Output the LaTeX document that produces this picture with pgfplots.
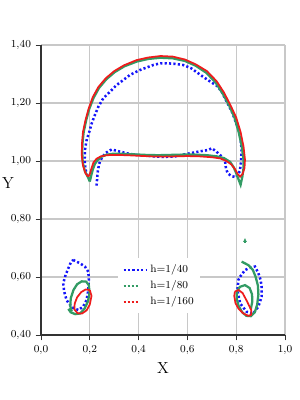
\documentclass[border=0pt]{standalone}
\usepackage{pgfplots}
\pgfplotsset{compat=1.18}
\usetikzlibrary{arrows.meta}
\definecolor{cblue}{RGB}{20,20,250}
\definecolor{cgreen}{RGB}{50,155,100}
\definecolor{cred}{RGB}{238,28,28}
\definecolor{cgrid}{RGB}{200,200,200}
\begin{document}
\begin{tikzpicture}
\begin{axis}[
  name=ax,
  scale only axis,
  width=183pt, height=217.5pt,
  xmin=0, xmax=1, ymin=0.4, ymax=1.4,
  xtick={0,0.2,0.4,0.6,0.8,1.0},
  ytick={0.4,0.6,0.8,1.0,1.2,1.4},
  xticklabels={{0,0},{0,2},{0,4},{0,6},{0,8},{1,0}},
  yticklabels={{0,40},{0,60},{0,80},{1,00},{1,20},{1,40}},
  tick label style={font=\footnotesize},
  tick align=outside,
  major tick length=4pt,
  tick style={black!80, line width=0.6pt},
  axis x line*=bottom, axis y line*=left,
  axis line style={black!80, line width=0.8pt, -},
  grid=major,
  major grid style={cgrid, line width=0.8pt},
  xlabel={X}, ylabel={Y},
  every axis x label/.style={at={(axis description cs:0.5,-0.114)}, anchor=center, font=\large},
  every axis y label/.style={at={(axis description cs:-0.135,0.524)}, anchor=center, font=\large},
  legend style={at={(axis description cs:0.316,0.266)}, anchor=north west, draw=none, fill=white, font=\footnotesize, row sep=0.5pt, inner sep=3pt},
  legend cell align=left,
]
% h=1/40 blue
\addplot[cblue, line width=1.9pt, dash pattern=on 1.6pt off 1.7pt, forget plot] coordinates {
(0.228,0.915)(0.230,0.94)(0.233,0.965)(0.238,0.99)(0.25,1.012)(0.265,1.028)(0.29,1.04)(0.32,1.033)(0.36,1.025)(0.40,1.02)(0.45,1.017)(0.50,1.014)(0.55,1.016)(0.60,1.025)(0.65,1.033)(0.685,1.038)(0.70,1.044)(0.715,1.035)(0.73,1.024)(0.745,1.012)(0.755,0.995)(0.758,0.975)(0.765,0.958)(0.78,0.948)(0.80,0.944)(0.815,0.965)(0.82,1.0)(0.822,1.04)(0.818,1.08)(0.81,1.11)(0.80,1.13)(0.785,1.165)(0.77,1.19)(0.755,1.215)(0.74,1.24)(0.72,1.26)(0.693,1.274)(0.665,1.29)(0.64,1.305)(0.615,1.32)(0.583,1.331)(0.55,1.335)(0.515,1.337)(0.49,1.337)(0.46,1.331)(0.435,1.323)(0.406,1.314)(0.365,1.297)(0.337,1.279)(0.31,1.262)(0.283,1.239)(0.255,1.216)(0.235,1.187)(0.221,1.159)(0.208,1.13)(0.198,1.101)(0.187,1.072)(0.180,1.038)(0.179,1.003)(0.182,0.972)(0.192,0.945)
};
\addplot[cblue, line width=1.9pt, dash pattern=on 1.6pt off 1.7pt, forget plot] coordinates {
(0.132,0.659)(0.16,0.647)(0.18,0.636)(0.194,0.618)(0.196,0.59)(0.194,0.555)(0.187,0.521)(0.173,0.498)(0.153,0.486)(0.126,0.496)(0.105,0.52)(0.095,0.55)(0.091,0.578)(0.1,0.605)(0.112,0.63)(0.122,0.65)(0.132,0.659)
};
\addplot[cblue, line width=1.9pt, dash pattern=on 1.6pt off 1.7pt] coordinates {
(0.816,0.601)(0.836,0.624)(0.857,0.632)(0.877,0.636)(0.891,0.613)(0.90,0.59)(0.904,0.567)(0.904,0.532)(0.891,0.498)(0.870,0.474)(0.843,0.48)(0.816,0.509)(0.805,0.555)(0.809,0.59)(0.816,0.601)
};
\addlegendentry{h=1/40}
% h=1/80 green
\addplot[cgreen, line width=1.7pt, forget plot] coordinates {
(0.200,0.929)(0.192,0.945)(0.180,0.965)(0.171,0.995)(0.169,1.03)(0.170,1.06)(0.175,1.10)(0.185,1.14)(0.198,1.18)(0.215,1.217)(0.238,1.252)(0.268,1.282)(0.303,1.307)(0.343,1.327)(0.393,1.343)(0.44,1.352)(0.49,1.356)(0.54,1.354)(0.59,1.345)(0.635,1.328)(0.678,1.304)(0.716,1.27)(0.745,1.232)(0.772,1.19)(0.793,1.15)(0.81,1.10)(0.823,1.05)(0.830,1.005)(0.830,0.975)(0.825,0.945)(0.818,0.918)(0.808,0.94)(0.800,0.958)(0.79,0.978)(0.775,0.997)(0.75,1.01)(0.72,1.016)(0.68,1.02)(0.63,1.022)(0.58,1.022)(0.53,1.021)(0.48,1.020)(0.43,1.021)(0.38,1.023)(0.33,1.025)(0.296,1.025)(0.27,1.022)(0.249,1.015)(0.232,1.003)(0.221,0.99)(0.212,0.97)(0.206,0.95)(0.200,0.929)
};
\addplot[cgreen, line width=1.7pt, forget plot] coordinates {
(0.112,0.49)(0.122,0.478)(0.14,0.472)(0.16,0.474)(0.178,0.49)(0.192,0.515)(0.199,0.545)(0.196,0.572)(0.185,0.584)(0.167,0.585)(0.148,0.575)(0.133,0.555)(0.122,0.527)(0.12,0.50)(0.126,0.482)
};
\addplot[cgreen, line width=1.2pt, -{Latex[length=3pt,width=3pt]}, forget plot] coordinates {
(0.836,0.718)(0.836,0.735)
};
\addplot[cgreen, line width=1.7pt, legend image code/.code={\draw[cgreen, line width=1.7pt, dash pattern=on 1.5pt off 1.5pt] (0cm,0cm) -- (0.42cm,0cm);}] coordinates {
(0.822,0.653)(0.85,0.641)(0.868,0.625)(0.88,0.60)(0.889,0.57)(0.891,0.54)(0.886,0.505)(0.876,0.478)(0.86,0.465)(0.842,0.466)(0.825,0.478)(0.81,0.50)(0.802,0.525)(0.803,0.55)(0.815,0.566)(0.836,0.572)(0.855,0.562)(0.865,0.54)(0.866,0.515)(0.86,0.49)
};
\addlegendentry{h=1/80}
% h=1/160 red
\addplot[cred, line width=1.3pt, forget plot] coordinates {
(0.194,0.946)(0.182,0.958)(0.172,0.985)(0.167,1.02)(0.168,1.06)(0.172,1.10)(0.182,1.14)(0.195,1.18)(0.212,1.22)(0.235,1.255)(0.265,1.285)(0.30,1.31)(0.34,1.33)(0.392,1.348)(0.44,1.357)(0.49,1.362)(0.54,1.36)(0.59,1.35)(0.635,1.333)(0.68,1.31)(0.72,1.275)(0.75,1.236)(0.778,1.19)(0.80,1.15)(0.818,1.10)(0.83,1.05)(0.836,1.005)(0.834,0.975)(0.826,0.955)(0.816,0.946)(0.806,0.955)(0.795,0.972)(0.78,0.988)(0.76,1.0)(0.734,1.009)(0.70,1.013)(0.65,1.016)(0.60,1.017)(0.55,1.016)(0.50,1.015)(0.45,1.016)(0.40,1.018)(0.35,1.02)(0.30,1.021)(0.27,1.02)(0.245,1.016)(0.228,1.008)(0.215,0.995)(0.207,0.975)(0.200,0.955)(0.194,0.946)
};
\addplot[cred, line width=1.3pt, forget plot] coordinates {
(0.20,0.555)(0.207,0.535)(0.20,0.505)(0.187,0.485)(0.168,0.474)(0.15,0.475)(0.137,0.488)(0.138,0.508)(0.148,0.53)(0.165,0.548)(0.183,0.557)(0.20,0.555)
};
\addplot[cred, line width=1.3pt, legend image code/.code={\draw[cred, line width=1.7pt, dash pattern=on 1.5pt off 1.5pt] (0cm,0cm) -- (0.42cm,0cm);}] coordinates {
(0.795,0.55)(0.81,0.555)(0.826,0.545)(0.845,0.515)(0.862,0.485)(0.862,0.47)(0.85,0.466)(0.83,0.474)(0.81,0.49)(0.797,0.51)(0.792,0.535)(0.795,0.55)
};
\addlegendentry{h=1/160}
\end{axis}
\pgfresetboundingbox
\path ([shift={(-30.75pt,-48.75pt)}]ax.south west) rectangle ([shift={(11.25pt,33.75pt)}]ax.north east);
\end{tikzpicture}
\end{document}
